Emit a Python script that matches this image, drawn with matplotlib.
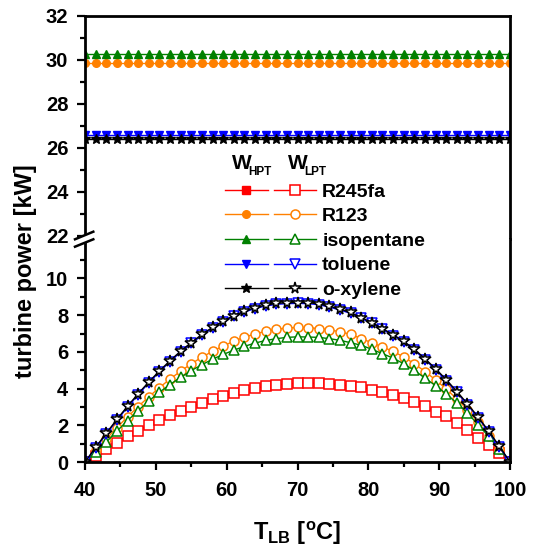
import numpy as np
import matplotlib
matplotlib.use('Agg')
import matplotlib.pyplot as plt
from matplotlib.ticker import MultipleLocator, FixedLocator
from matplotlib.lines import Line2D
from matplotlib.patches import Polygon

plt.rcParams['font.family'] = ['Liberation Sans', 'DejaVu Sans']
plt.rcParams['font.weight'] = 'bold'
plt.rcParams['mathtext.fontset'] = 'custom'
plt.rcParams['mathtext.rm'] = 'Liberation Sans:bold'
plt.rcParams['mathtext.it'] = 'Liberation Sans:bold'
plt.rcParams['mathtext.bf'] = 'Liberation Sans:bold'

# температура нижньої межі, 41 точка
t_lb = np.arange(40, 100.01, 1.5)

fluids = ['R245fa', 'R123', 'isopentane', 'toluene', 'o-xylene']
colors = ['#ff0000', '#ff8000', '#008000', '#0000ff', '#000000']
markers = ['s', 'o', '^', 'v', '*']

# W_HPT (стала потужність), R245fa поза межами графіка
w_hpt = [16.5, 29.84, 30.25, 26.56, 26.39]

# W_LPT
w_lpt_r245fa = [0, 0.35, 0.70, 1.05, 1.39, 1.71, 2.01, 2.30, 2.56, 2.80, 3.02,
                3.23, 3.43, 3.61, 3.76, 3.90, 4.02, 4.12, 4.20, 4.26, 4.29,
                4.29, 4.29, 4.26, 4.20, 4.16, 4.07, 3.95, 3.80, 3.65, 3.47,
                3.25, 3.03, 2.74, 2.48, 2.12, 1.75, 1.33, 0.93, 0.47, 0.0]
w_lpt_r123 = [0, 0.64, 1.26, 1.87, 2.46, 3.02, 3.55, 4.05, 4.52, 4.95, 5.35,
              5.71, 6.03, 6.32, 6.58, 6.80, 6.98, 7.12, 7.23, 7.30, 7.33,
              7.32, 7.27, 7.21, 7.09, 6.96, 6.72, 6.50, 6.26, 6.03, 5.72,
              5.35, 4.93, 4.47, 3.98, 3.43, 2.85, 2.16, 1.42, 0.69, 0.0]
w_lpt_isopentane = [0, 0.52, 1.08, 1.68, 2.25, 2.80, 3.32, 3.80, 4.22, 4.62, 4.98,
                    5.30, 5.60, 5.86, 6.09, 6.30, 6.48, 6.62, 6.72, 6.79, 6.82,
                    6.81, 6.79, 6.72, 6.63, 6.50, 6.36, 6.14, 5.90, 5.66, 5.35,
                    4.99, 4.57, 4.16, 3.71, 3.21, 2.67, 2.03, 1.39, 0.69, 0.0]
w_lpt_toluene = [0, 0.76, 1.52, 2.27, 2.99, 3.67, 4.31, 4.91, 5.47, 5.99, 6.46,
                 6.90, 7.29, 7.63, 7.93, 8.17, 8.36, 8.50, 8.59, 8.63, 8.64,
                 8.63, 8.57, 8.44, 8.28, 8.10, 7.82, 7.55, 7.22, 6.89, 6.53,
                 6.09, 5.58, 5.03, 4.44, 3.79, 3.12, 2.41, 1.64, 0.82, 0.0]
w_lpt_oxylene = [0, 0.80, 1.57, 2.32, 3.04, 3.72, 4.36, 4.96, 5.52, 6.04, 6.51,
                 6.95, 7.34, 7.68, 7.98, 8.22, 8.41, 8.55, 8.64, 8.68, 8.69,
                 8.68, 8.62, 8.49, 8.33, 8.15, 7.87, 7.60, 7.27, 6.94, 6.58,
                 6.14, 5.63, 5.08, 4.49, 3.84, 3.17, 2.45, 1.68, 0.86, 0.0]
w_lpt = [w_lpt_r245fa, w_lpt_r123, w_lpt_isopentane, w_lpt_toluene, w_lpt_oxylene]

W, H = 536, 549
fig = plt.figure(figsize=(W / 100, H / 100), dpi=100)


def fx(px):
    return px / W


def fy(py):
    return 1 - py / H


left, right = 85, 510
top, brk, bottom = 15.7, 239, 462
ax_top = fig.add_axes([fx(left), fy(brk), fx(right) - fx(left), fy(top) - fy(brk)])
ax_low = fig.add_axes([fx(left), fy(bottom), fx(right) - fx(left), fy(brk) - fy(bottom)])

hpt_lines, lpt_lines = [], []
for name, c, m, hv, lv in zip(fluids, colors, markers, w_hpt, w_lpt):
    ms = 7.5 if m == '*' else 5.5
    ln, = ax_top.plot(t_lb, [hv] * len(t_lb), color=c, marker=m, ms=ms,
                      mfc=c, mec=c, lw=1)
    hpt_lines.append(ln)
    ms2 = 8.5 if m == '*' else 6.5
    ln2, = ax_low.plot(t_lb, lv, color=c, marker=m, ms=ms2, mfc='white',
                       mec=c, mew=1.1, lw=1)
    lpt_lines.append(ln2)

for ax in (ax_top, ax_low):
    ax.set_xlim(40, 100)
    for s in ax.spines.values():
        s.set_linewidth(2)
    ax.tick_params(which='major', direction='out', length=6, width=1.6,
                   labelsize=14.5, pad=6)
    ax.tick_params(which='minor', direction='out', length=3.5, width=1.6)
    ax.tick_params(which='both', right=False, top=False)

ax_top.set_ylim(21.86, 32)
ax_top.yaxis.set_major_locator(MultipleLocator(2))
ax_top.yaxis.set_minor_locator(MultipleLocator(1))
ax_top.spines['bottom'].set_visible(False)
ax_top.tick_params(which='both', bottom=False, labelbottom=False)

ax_low.set_ylim(0, 12.15)
ax_low.yaxis.set_major_locator(FixedLocator([0, 2, 4, 6, 8, 10]))
ax_low.yaxis.set_minor_locator(FixedLocator([1, 3, 5, 7, 9, 11]))
ax_low.spines['top'].set_visible(False)
ax_low.xaxis.set_major_locator(MultipleLocator(10))
ax_low.xaxis.set_minor_locator(MultipleLocator(5))
ax_low.tick_params(axis='x', which='major', pad=8)
ax_low.set_xlabel(r'T$_{\mathrm{LB}}$ [$^{\mathrm{o}}$C]', fontsize=17,
                  fontweight='bold', labelpad=14)

fig.text(fx(26), fy(271), 'turbine power [kW]', rotation=90, ha='center',
         va='center', fontsize=17, fontweight='bold')

# розрив осі
gap = Polygon([[fx(75), fy(239.3)], [fx(93.3), fy(231.7)],
               [fx(93.3), fy(239.3)], [fx(75), fy(246.7)]],
              closed=True, transform=fig.transFigure, color='white', zorder=5)
fig.add_artist(gap)
for y0, y1 in ((239.3, 231.7), (246.7, 239.3)):
    fig.add_artist(Line2D([fx(75), fx(93.3)], [fy(y0), fy(y1)], color='black',
                          lw=1.8, transform=fig.transFigure, zorder=6))

# легенда у два стовпці
fig.legend(handles=hpt_lines + lpt_lines, labels=[''] * 5 + fluids, ncol=2,
           loc='upper left', bbox_to_anchor=(fx(225), fy(183)), frameon=False,
           fontsize=14, handlelength=2.2, handletextpad=0.3, columnspacing=0.0,
           labelspacing=0.36, borderpad=0, borderaxespad=0, numpoints=1)
for x0, sub in ((232, 'HPT'), (288, 'LPT')):
    fig.text(fx(x0), fy(169), 'W', fontsize=15, fontweight='bold')
    fig.text(fx(x0 + 16.5), fy(175), sub, fontsize=8.5, fontweight='bold')

fig.savefig('out.png', dpi=100)
